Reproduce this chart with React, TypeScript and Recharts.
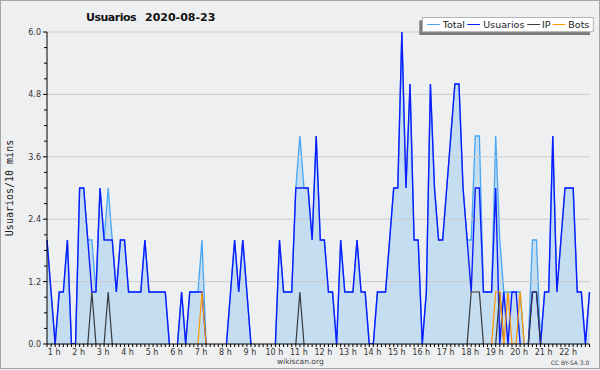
import React from 'react';
import { ComposedChart, Area, Line, XAxis, YAxis, ReferenceLine } from 'recharts';

// 10-minute samples
const total = [
  2, 1, 0, 1, 1, 2, 0, 0, 3, 3,
  2, 2, 1, 3, 2, 3, 2, 1, 2, 2,
  1, 1, 1, 1, 2, 1, 1, 1, 1, 1,
  0, 0, 0, 1, 0, 1, 1, 1, 2, 0,
  0, 0, 0, 0, 0, 1, 2, 1, 2, 1,
  0, 0, 0, 0, 0, 0, 0, 2, 1, 1,
  1, 3, 4, 3, 3, 2, 4, 2, 2, 1,
  1, 0, 2, 1, 1, 1, 2, 1, 1, 0,
  0, 1, 1, 1, 2, 3, 3, 6, 3, 5,
  2, 2, 0, 1, 5, 3, 2, 2, 3, 4,
  5, 5, 3, 2, 2, 4, 4, 1, 1, 1,
  4, 2, 1, 1, 1, 1, 1, 0, 0, 2,
  2, 0, 1, 1, 4, 1, 2, 3, 3, 3,
  1, 1, 0, 1,
];
const usuarios = [
  2, 1, 0, 1, 1, 2, 0, 0, 3, 3,
  2, 1, 1, 3, 2, 2, 2, 1, 2, 2,
  1, 1, 1, 1, 2, 1, 1, 1, 1, 1,
  0, 0, 0, 1, 0, 1, 1, 1, 1, 0,
  0, 0, 0, 0, 0, 1, 2, 1, 2, 1,
  0, 0, 0, 0, 0, 0, 0, 2, 1, 1,
  1, 3, 3, 3, 3, 2, 4, 2, 2, 1,
  1, 0, 2, 1, 1, 1, 2, 1, 1, 0,
  0, 1, 1, 1, 2, 3, 3, 6, 3, 5,
  2, 2, 0, 1, 5, 3, 2, 2, 3, 4,
  5, 5, 3, 2, 1, 3, 3, 1, 1, 1,
  3, 0, 1, 0, 1, 1, 0, 0, 0, 1,
  1, 0, 1, 1, 4, 1, 2, 3, 3, 3,
  1, 1, 0, 1,
];
const ip = [
  0, 0, 0, 0, 0, 0, 0, 0, 0, 0,
  0, 1, 0, 0, 0, 1, 0, 0, 0, 0,
  0, 0, 0, 0, 0, 0, 0, 0, 0, 0,
  0, 0, 0, 0, 0, 0, 0, 0, 0, 0,
  0, 0, 0, 0, 0, 0, 0, 0, 0, 0,
  0, 0, 0, 0, 0, 0, 0, 0, 0, 0,
  0, 0, 1, 0, 0, 0, 0, 0, 0, 0,
  0, 0, 0, 0, 0, 0, 0, 0, 0, 0,
  0, 0, 0, 0, 0, 0, 0, 0, 0, 0,
  0, 0, 0, 0, 0, 0, 0, 0, 0, 0,
  0, 0, 0, 0, 1, 1, 1, 0, 0, 0,
  0, 1, 0, 0, 0, 0, 0, 0, 0, 1,
  1, 0, 0, 0, 0, 0, 0, 0, 0, 0,
  0, 0, 0, 0,
];
const bots = [
  0, 0, 0, 0, 0, 0, 0, 0, 0, 0,
  0, 0, 0, 0, 0, 0, 0, 0, 0, 0,
  0, 0, 0, 0, 0, 0, 0, 0, 0, 0,
  0, 0, 0, 0, 0, 0, 0, 0, 1, 0,
  0, 0, 0, 0, 0, 0, 0, 0, 0, 0,
  0, 0, 0, 0, 0, 0, 0, 0, 0, 0,
  0, 0, 0, 0, 0, 0, 0, 0, 0, 0,
  0, 0, 0, 0, 0, 0, 0, 0, 0, 0,
  0, 0, 0, 0, 0, 0, 0, 0, 0, 0,
  0, 0, 0, 0, 0, 0, 0, 0, 0, 0,
  0, 0, 0, 0, 0, 0, 0, 0, 0, 0,
  1, 1, 0, 1, 0, 0, 1, 0, 0, 0,
  0, 0, 0, 0, 0, 0, 0, 0, 0, 0,
  0, 0, 0, 0,
];

const hourLabels = [
  '1 h', '2 h', '3 h', '4 h', '5 h', '6 h', '7 h', '8 h', '9 h', '10 h', '11 h',
  '12 h', '13 h', '14 h', '15 h', '16 h', '17 h', '18 h', '19 h', '20 h', '21 h', '22 h',
];
const firstHourIndex = 2;
const pointsPerHour = 6;
const yMajorTicks = [0, 1.2, 2.4, 3.6, 4.8, 6.0];
const yMinorPerMajor = 4;

const title = 'Usuarios';
const titleDate = '2020-08-23';
const yAxisTitle = 'Usuarios/10 mins';
const legendNames = ['Total', 'Usuarios', 'IP', 'Bots'];

const FONT = '"DejaVu Sans", sans-serif';
const C_TOTAL = '#46a6f4';
const C_USERS = '#0c1cff';
const C_IP = '#3a3a3a';
const C_BOTS = '#ff9800';
const C_FILL = '#c5ddf1';
const BG = '#eeeff1';

// hide long runs of zeros lying on the x axis (keeps the drawn shape identical)
const hideFlatZero = (arr: number[]) =>
  arr.map((v, i) =>
    v !== 0 || (arr[i - 1] ?? 0) !== 0 || (arr[i + 1] ?? 0) !== 0 ? v : null
  );

const totalD = hideFlatZero(total);
const usuariosD = hideFlatZero(usuarios);
const ipD = hideFlatZero(ip);
const botsD = hideFlatZero(bots);

const data = total.map((_, i) => ({
  i,
  total: totalD[i],
  usuarios: usuariosD[i],
  ip: ipD[i],
  bots: botsD[i],
}));

const xTicks = total.map((_, i) => i);
const yTicks: number[] = [];
for (let k = 0; k < yMajorTicks.length - 1; k++) {
  for (let m = 0; m < yMinorPerMajor; m++) {
    yTicks.push(yMajorTicks[k] + ((yMajorTicks[k + 1] - yMajorTicks[k]) * m) / yMinorPerMajor);
  }
}
yTicks.push(yMajorTicks[yMajorTicks.length - 1]);

function XTick(props: any) {
  const { x, y, payload } = props;
  const i = payload.value as number;
  const rel = i - firstHourIndex;
  const label = rel >= 0 && rel % pointsPerHour === 0 ? hourLabels[rel / pointsPerHour] : undefined;
  return (
    <g>
      <line x1={x} x2={x} y1={y} y2={y + 3} stroke="#000" strokeWidth={1} />
      {label && (
        <text x={x - 1} y={y + 11} textAnchor="middle" fontSize={8} fontFamily={FONT} fill="#333">
          {label}
        </text>
      )}
    </g>
  );
}

function YTick(props: any) {
  const { x, y, payload } = props;
  const v = payload.value as number;
  const isMajor = yMajorTicks.some((m) => Math.abs(m - v) < 1e-6);
  return (
    <g>
      <line x1={x - (isMajor ? 4 : 3)} x2={x} y1={y} y2={y} stroke="#000" strokeWidth={1} />
      {isMajor && (
        <text x={x - 6} y={y + 3} textAnchor="end" fontSize={8} fontFamily={FONT} fill="#333">
          {v.toFixed(1)}
        </text>
      )}
    </g>
  );
}

const legendItems = [
  { name: legendNames[0], color: C_TOTAL, lx: 427, tx: 442.7 },
  { name: legendNames[1], color: C_USERS, lx: 467.3, tx: 483.3 },
  { name: legendNames[2], color: C_IP, lx: 527.3, tx: 542 },
  { name: legendNames[3], color: C_BOTS, lx: 552.7, tx: 568.3 },
];

export default function App() {
  return (
    <div
      style={{
        position: 'fixed',
        left: 0,
        top: 0,
        width: 600,
        height: 370,
        background: BG,
        overflow: 'hidden',
      }}
    >
      <div style={{ position: 'absolute', left: 0, top: 0 }}>
        <ComposedChart
          width={600}
          height={370}
          data={data}
          margin={{ top: 32, right: 10.5, bottom: 0, left: 0 }}
        >
          {yMajorTicks
            .filter((v) => v > 0)
            .map((v) => (
              <ReferenceLine key={v} y={v} stroke="#cbcbcb" strokeWidth={1} />
            ))}
          <XAxis
            type="number"
            dataKey="i"
            domain={[0, total.length - 1]}
            ticks={xTicks}
            interval={0}
            height={26}
            tickSize={0}
            tickMargin={0}
            tickLine={false}
            axisLine={{ stroke: '#000', strokeWidth: 1 }}
            tick={XTick}
            allowDecimals={false}
          />
          <YAxis
            type="number"
            domain={[0, 6]}
            ticks={yTicks}
            interval={0}
            width={47}
            tickSize={0}
            tickMargin={0}
            tickLine={false}
            axisLine={{ stroke: '#000', strokeWidth: 1 }}
            tick={YTick}
            allowDataOverflow
          />
          <Area
            type="linear"
            dataKey="total"
            stroke={C_TOTAL}
            strokeWidth={1.3}
            fill={C_FILL}
            fillOpacity={1}
            dot={false}
            activeDot={false}
            isAnimationActive={false}
          />
          <Line
            type="linear"
            dataKey="usuarios"
            stroke={C_USERS}
            strokeWidth={1.4}
            dot={false}
            activeDot={false}
            isAnimationActive={false}
          />
          <Line
            type="linear"
            dataKey="ip"
            stroke={C_IP}
            strokeWidth={1.2}
            dot={false}
            activeDot={false}
            isAnimationActive={false}
          />
          <Line
            type="linear"
            dataKey="bots"
            stroke={C_BOTS}
            strokeWidth={1.2}
            dot={false}
            activeDot={false}
            isAnimationActive={false}
          />
        </ComposedChart>
      </div>
      <svg
        width={600}
        height={370}
        style={{ position: 'absolute', left: 0, top: 0, pointerEvents: 'none' }}
      >
        <rect x={0.5} y={0.5} width={599} height={368} fill="none" stroke="#a6a6a6" strokeWidth={1} />
        <text x={86} y={21} fontFamily={FONT} fontWeight="bold" fontSize={11} letterSpacing={-0.5} fill="#111">
          {title}
        </text>
        <text x={145} y={21} fontFamily={FONT} fontWeight="bold" fontSize={11} fill="#111">
          {titleDate}
        </text>
        <text
          transform="translate(13,188) rotate(-90)"
          textAnchor="middle"
          fontFamily='"DejaVu Sans Mono", monospace'
          fontSize={10}
          fill="#222"
        >
          {yAxisTitle}
        </text>
        <rect x={419.3} y={20.3} width={170.7} height={14.7} fill="#7c7c7c" />
        <rect x={422.5} y={17.5} width={170.8} height={14.2} fill="#fff" stroke="#b4b4b4" strokeWidth={1} />
        {legendItems.map((it) => (
          <g key={it.name}>
            <line x1={it.lx} x2={it.lx + 12.7} y1={24.5} y2={24.5} stroke={it.color} strokeWidth={1} />
            <text x={it.tx} y={28} fontFamily={FONT} fontSize={9.5} fill="#222">
              {it.name}
            </text>
          </g>
        ))}
        <text x={300.3} y={363.5} textAnchor="middle" fontFamily={FONT} fontSize={7.5} fill="#444">
          wikiscan.org
        </text>
        <text x={589.3} y={365} textAnchor="end" fontFamily={FONT} fontSize={6} fill="#444">
          CC BY-SA 3.0
        </text>
      </svg>
    </div>
  );
}
